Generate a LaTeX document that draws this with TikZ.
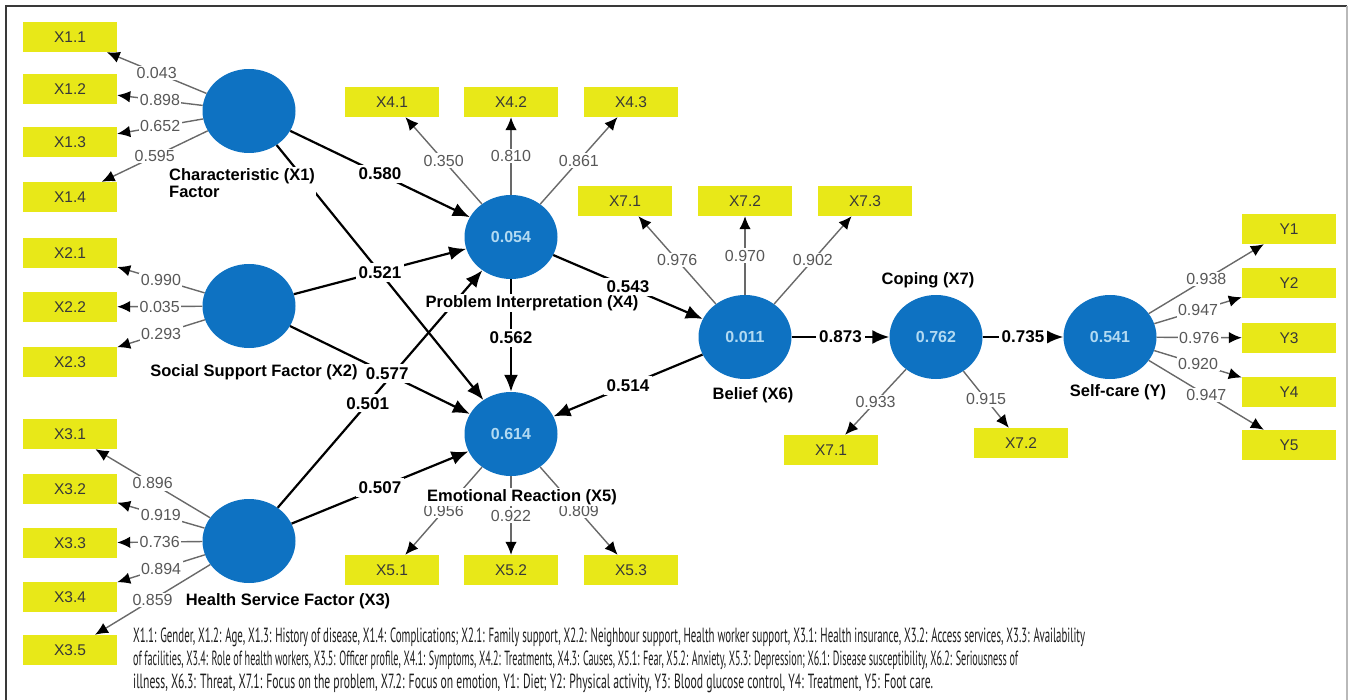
\documentclass[tikz,border=0pt]{standalone}
\usepackage{graphicx}
\usepackage{fontspec}
\setmainfont{Liberation Sans}
\newfontfamily\capfont{PT Sans}
\usetikzlibrary{shapes.geometric,arrows.meta}
\definecolor{lvblue}{RGB}{14,114,194}
\definecolor{lvtext}{RGB}{178,218,242}
\definecolor{indyellow}{RGB}{232,232,24}
\definecolor{loadgray}{RGB}{105,105,105}
\definecolor{loadtext}{RGB}{88,88,88}
\definecolor{captext}{RGB}{30,30,30}
\begin{document}
\begin{tikzpicture}[x=1pt,y=-1pt,
  lv/.style={ellipse, fill=lvblue, minimum width=93pt, minimum height=84pt, inner sep=0pt, text=lvtext, font=\fontsize{16}{16}\selectfont\bfseries},
  ind/.style={rectangle, fill=indyellow, minimum width=94pt, minimum height=30pt, inner sep=0pt, text=black!78, font=\fontsize{15.5}{15.5}\selectfont},
  load/.style={draw=loadgray, line width=1.4pt, -{Latex[length=13pt,width=11.5pt,color=black]}},
  loadlab/.style={fill=white, inner sep=1.5pt, text=loadtext, font=\fontsize{16}{16}\selectfont},
  pth/.style={draw=black, line width=2.2pt, -{Latex[length=17pt,width=14pt]}},
  pathlab/.style={fill=white, inner sep=3pt, font=\fontsize{17}{17}\selectfont\bfseries},
  lvname/.style={fill=white, inner sep=1pt, font=\fontsize{16.5}{17.5}\selectfont\bfseries},
  caption/.style={anchor=base west, inner sep=0pt, text=captext, font=\capfont\fontsize{20.5}{20.5}\selectfont}]
\useasboundingbox (0,0) rectangle (1348,700);
% frame
\draw[gray!45!black, line width=1.5pt] (6,700) -- (6,6) -- (1347,6);
\draw[gray!55, line width=1.2pt] (1347,6) -- (1347,700);

% latent variables
\node[lv] (X1) at (249,111) {};
\node[lv] (X2) at (249,306) {};
\node[lv] (X3) at (249,541) {};
\node[lv] (X4) at (511,237) {0.054};
\node[lv] (X5) at (511,434) {0.614};
\node[lv] (X6) at (745,337) {0.011};
\node[lv] (X7) at (936,337) {0.762};
\node[lv] (Y)  at (1110,337) {0.541};

% indicators
\node[ind] (i11) at (70,37) {X1.1};
\node[ind] (i12) at (70,89.5) {X1.2};
\node[ind] (i13) at (70,142) {X1.3};
\node[ind] (i14) at (70,197) {X1.4};
\node[ind] (i21) at (70,253) {X2.1};
\node[ind] (i22) at (70,307) {X2.2};
\node[ind] (i23) at (70,362) {X2.3};
\node[ind] (i31) at (70,434) {X3.1};
\node[ind] (i32) at (70,489) {X3.2};
\node[ind] (i33) at (70,543) {X3.3};
\node[ind] (i34) at (70,597) {X3.4};
\node[ind] (i35) at (70,650) {X3.5};
\node[ind] (i41) at (392,102) {X4.1};
\node[ind] (i42) at (511,102) {X4.2};
\node[ind] (i43) at (631,102) {X4.3};
\node[ind] (i51) at (392,570) {X5.1};
\node[ind] (i52) at (511,570) {X5.2};
\node[ind] (i53) at (631,570) {X5.3};
\node[ind] (i61) at (625,201) {X7.1};
\node[ind] (i62) at (745,201) {X7.2};
\node[ind] (i63) at (865,201) {X7.3};
\node[ind] (i71) at (831,450) {X7.1};
\node[ind] (i72) at (1021,443) {X7.2};
\node[ind] (y1) at (1289,229) {Y1};
\node[ind] (y2) at (1289,283) {Y2};
\node[ind] (y3) at (1289,338) {Y3};
\node[ind] (y4) at (1289,392) {Y4};
\node[ind] (y5) at (1289,445) {Y5};

% loading lines
\foreach \a/\b in {X1/i11,X1/i12,X1/i13,X1/i14,X2/i21,X2/i22,X2/i23,X3/i31,X3/i32,X3/i33,X3/i34,X3/i35,X4/i41,X4/i42,X4/i43,X5/i51,X5/i52,X5/i53,X6/i61,X6/i62,X6/i63,X7/i71,X7/i72,Y/y1,Y/y2,Y/y3,Y/y4,Y/y5}
  \draw[load] (\a) -- (\b);
% structural paths
\foreach \a/\b in {X1/X4,X1/X5,X2/X4,X2/X5,X3/X4,X3/X5,X4/X5,X4/X6,X6/X5,X6/X7,X7/Y}
  \draw[pth] (\a) -- (\b);

% loading labels
\foreach \a/\b/\v in {X1/i11/0.043,X1/i12/0.898,X1/i13/0.652,X1/i14/0.595,X2/i21/0.990,X2/i22/0.035,X2/i23/0.293,X3/i31/0.896,X3/i32/0.919,X3/i33/0.736,X3/i34/0.894,X3/i35/0.859,X4/i41/0.350,X4/i42/0.810,X4/i43/0.861,X5/i51/0.956,X5/i52/0.922,X5/i53/0.809,X6/i61/0.976,X6/i62/0.970,X6/i63/0.902,X7/i71/0.933,X7/i72/0.915,Y/y1/0.938,Y/y2/0.947,Y/y3/0.976,Y/y4/0.920,Y/y5/0.947}
  \path (\a) -- node[loadlab] {\v} (\b);
% path labels
\foreach \a/\b/\v/\p in {X1/X4/0.580/0.5,X1/X5/0.521/0.5,X2/X5/0.577/0.54,X3/X4/0.501/0.44,X3/X5/0.507/0.5,X4/X5/0.562/0.52,X4/X6/0.543/0.5,X6/X5/0.514/0.5,X6/X7/0.873/0.5,X7/Y/0.735/0.5}
  \path (\a) -- node[pathlab, pos=\p] {\v} (\b);

% latent variable names
\node[lvname, anchor=north west, align=left] (n1) at (168,167) {Characteristic (X1)\\Factor};
\node[lvname] (n2) at (254,372) {Social Support Factor (X2)};
\node[lvname] (n3) at (288,601) {Health Service Factor (X3)};
\node[lvname] (n4) at (532,303) {Problem Interpretation (X4)};
\node[lvname] (n5) at (522,497) {Emotional Reaction (X5)};
\node[lvname] (n6) at (753,395) {Belief (X6)};
\node[lvname] (n7) at (928,280) {Coping (X7)};
\node[lvname] (n8) at (1118,392) {Self-care (Y)};

% caption
\node[caption] (c1) at (133,642) {\resizebox{952pt}{\height}{X1.1: Gender, X1.2: Age, X1.3: History of disease, X1.4: Complications; X2.1: Family support, X2.2: Neighbour support, Health worker support, X3.1: Health insurance, X3.2: Access services, X3.3: Availability}};
\node[caption] (c2) at (133,665) {\resizebox{885pt}{\height}{of facilities, X3.4: Role of health workers, X3.5: Officer profile, X4.1: Symptoms, X4.2: Treatments, X4.3: Causes, X5.1: Fear, X5.2: Anxiety, X5.3: Depression; X6.1: Disease susceptibility, X6.2: Seriousness of}};
\node[caption] (c3) at (133,688) {\resizebox{800pt}{\height}{illness, X6.3: Threat, X7.1: Focus on the problem, X7.2: Focus on emotion, Y1: Diet; Y2: Physical activity, Y3: Blood glucose control, Y4: Treatment, Y5: Foot care.}};
\end{tikzpicture}
\end{document}
